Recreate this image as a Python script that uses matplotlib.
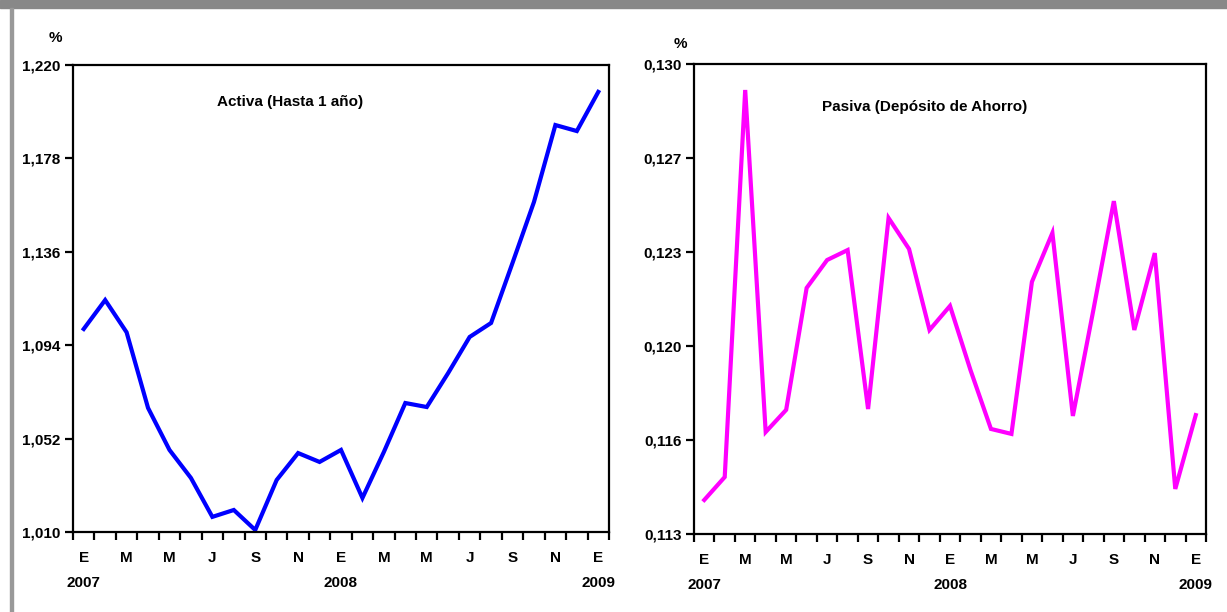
import numpy as np
from matplotlib import pyplot as plt
from matplotlib.patches import Rectangle

# monthly data, E 2007 .. E 2009
months = ["E", "F", "M", "A", "M", "J", "J", "A", "S", "O", "N", "D",
          "E", "F", "M", "A", "M", "J", "J", "A", "S", "O", "N", "D", "E"]
years = {0: "2007", 12: "2008", 24: "2009"}

activa = [1.1013, 1.1143, 1.0998, 1.0658, 1.0469, 1.0343, 1.0168, 1.0199,
          1.0109, 1.0334, 1.0455, 1.0415, 1.0469, 1.0253, 1.0460, 1.0680,
          1.0662, 1.0815, 1.0977, 1.1040, 1.1310, 1.1584, 1.1930, 1.1903,
          1.2079]

pasiva = [0.11423, 0.11506, 0.12906, 0.11669, 0.11749, 0.12190, 0.12291,
          0.12327, 0.11752, 0.12443, 0.12331, 0.12038, 0.12125, 0.11893,
          0.11680, 0.11662, 0.12212, 0.12389, 0.11727, 0.12110, 0.12504,
          0.12038, 0.12316, 0.11463, 0.11730]

activa_ticks = [1.010, 1.052, 1.094, 1.136, 1.178, 1.220]
pasiva_ticks = [0.1130, 0.1164, 0.1198, 0.1232, 0.1266, 0.1300]

plt.rcParams["font.family"] = ["Liberation Sans", "DejaVu Sans"]
plt.rcParams["font.weight"] = "bold"

fig = plt.figure(figsize=(12.27, 6.12), dpi=100)

# grey frame bits
fig.patches.append(Rectangle((0, 1 - 8 / 612), 1, 8 / 612, transform=fig.transFigure,
                             color="#888888", zorder=0))
fig.patches.append(Rectangle((10 / 1227, 0), 3 / 1227, 1 - 8 / 612, transform=fig.transFigure,
                             color="#999999", zorder=0))


def setup(ax, data, color, yticks, title, tx, ty):
    x = np.arange(len(data))
    ax.plot(x, data, color=color, lw=3, solid_joinstyle="miter")
    ax.set_xlim(-0.5, len(data) - 0.5)
    ax.set_ylim(yticks[0], yticks[-1])
    ax.set_yticks(yticks)
    ax.set_yticklabels([("%.3f" % v).replace(".", ",") for v in yticks])
    ax.set_xticks(np.arange(-0.5, len(data), 1.0), minor=True)
    major = list(range(0, len(data), 2))
    ax.set_xticks(major)
    labs = []
    for i in major:
        labs.append(months[i] + "\n" + years.get(i, ""))
    ax.set_xticklabels(labs, linespacing=1.95, va="top")
    ax.tick_params(axis="x", which="major", length=0, pad=14, labelsize=11)
    ax.tick_params(axis="x", which="minor", length=6, width=1.6, direction="out")
    ax.tick_params(axis="y", length=6, width=1.6, direction="out", labelsize=11, pad=3)
    for s in ax.spines.values():
        s.set_linewidth(1.6)
    ax.text(tx, ty, title, transform=ax.transAxes, ha="center", va="center",
            fontsize=11, fontweight="bold")


ax1 = fig.add_axes([73 / 1227, 1 - 532 / 612, 536 / 1227, 467 / 612])
setup(ax1, activa, "#0000FF", activa_ticks, "Activa (Hasta 1 año)", 0.405, 0.921)

ax2 = fig.add_axes([694 / 1227, 1 - 534 / 612, 512 / 1227, 470 / 612])
setup(ax2, pasiva, "#FF00FF", pasiva_ticks, "Pasiva (Depósito de Ahorro)", 0.451, 0.909)

fig.text(55 / 1227, 1 - 38 / 612, "%", ha="center", va="center", fontsize=11, fontweight="bold")
fig.text(680 / 1227, 1 - 44 / 612, "%", ha="center", va="center", fontsize=11, fontweight="bold")

fig.savefig("out.png", dpi=100)
